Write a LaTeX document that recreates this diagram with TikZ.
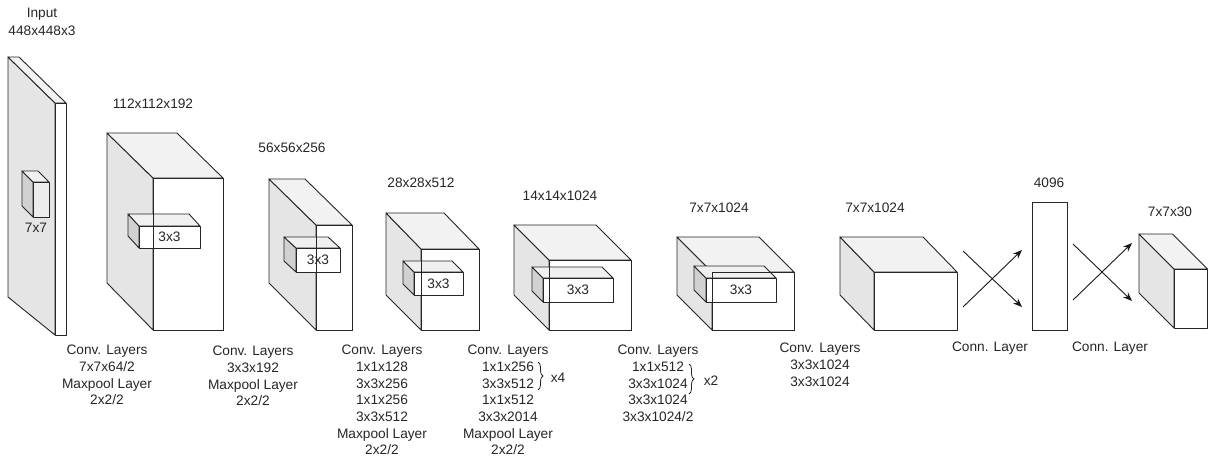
\documentclass[tikz,border=0pt]{standalone}
\usepackage{fontspec}
\setmainfont{Liberation Sans}
\usetikzlibrary{arrows.meta,decorations.pathreplacing}
\tikzset{
  edge/.style={draw=black!85, line width=0.9pt, line join=round},
  bigside/.style={edge, fill=black!10},
  bigtop/.style={edge, fill=black!5},
  bigfront/.style={edge, fill=white},
  smallside/.style={edge, fill=black!18},
  smalltop/.style={edge, fill=black!6},
  smallfront/.style={edge, fill=white},
  greyfront/.style={edge, fill=black!7},
  lbl/.style={font=\fontsize{13.7}{16.7}\selectfont, text=black!85, inner sep=0pt},
  blk/.style={lbl, align=center, anchor=north},
  arr/.style={draw=black!90, line width=0.9pt, -{Stealth[length=9pt,width=7pt]}},
  brc/.style={draw=black!85, line width=0.8pt, decorate, decoration={brace, amplitude=5pt}},
}
% #1 bx, #2 by, #3 back bottom, #4 L, #5 T, #6 R, #7 B, #8 side style, #9 front style
\newcommand{\mycuboid}[9]{%
  \path[#8side] (#1,#2) -- (#4,#5) -- (#4,#7) -- (#1,#3) -- cycle;
  \path[#8top] (#1,#2) -- ({#1+#6-#4},#2) -- (#6,#5) -- (#4,#5) -- cycle;
  \path[#9] (#4,#5) rectangle (#6,#7);
}
\newcommand{\frontedge}[4]{\draw[edge] (#1,#2) rectangle (#3,#4);}
\begin{document}
\begin{tikzpicture}[x=1pt,y=-1pt]
\useasboundingbox (0,0) rectangle (1209,456);
% ---- input slab
\mycuboid{8}{57}{297}{55}{103}{66}{335}{big}{bigfront}
\mycuboid{22}{171}{206}{33}{182}{49}{217}{small}{greyfront}
\node[lbl] (k7) at (36,228) {7x7};
\node[lbl] (in1) at (42,14) {Input};
\node[lbl] (in2) at (42,31) {448x448x3};
% ---- 112x112x192
\mycuboid{107}{133}{283}{153}{178}{223}{330}{big}{bigfront}
\mycuboid{128}{214}{236}{139}{226}{200}{248}{small}{smallfront}
\frontedge{153}{178}{223}{330}
\node[lbl] (k2) at (169.5,237) {3x3};
\node[lbl] (d2) at (153,104) {112x112x192};
% ---- 56x56x256
\mycuboid{269}{179}{283}{316}{225}{352}{330}{big}{bigfront}
\mycuboid{284}{237}{261}{296}{248}{340}{272}{small}{smallfront}
\frontedge{316}{225}{352}{330}
\node[lbl] (k3) at (318,260) {3x3};
\node[lbl] (d3) at (292,148) {56x56x256};
% ---- 28x28x512
\mycuboid{386}{213}{295}{421}{249}{479}{330}{big}{bigfront}
\mycuboid{403}{261}{284}{414}{272}{463}{295}{small}{smallfront}
\frontedge{421}{249}{479}{330}
\node[lbl] (k4) at (438.5,283.5) {3x3};
\node[lbl] (d4) at (421,183) {28x28x512};
% ---- 14x14x1024
\mycuboid{514}{225}{295}{549}{260}{631}{330}{big}{bigfront}
\mycuboid{532}{267}{291}{543}{278}{613}{302}{small}{smallfront}
\frontedge{549}{260}{631}{330}
\node[lbl] (k5) at (578,290) {3x3};
\node[lbl] (d5) at (560,196) {14x14x1024};
% ---- 7x7x1024 (a)
\mycuboid{677}{237}{295}{712}{272}{794}{330}{big}{bigfront}
\mycuboid{694}{266}{290}{706}{278}{776}{302}{small}{smallfront}
\frontedge{712}{272}{794}{330}
\node[lbl] (k6) at (741,290) {3x3};
\node[lbl] (d6) at (719,208) {7x7x1024};
% ---- 7x7x1024 (b)
\mycuboid{840}{237}{295}{874}{272}{957}{330}{big}{bigfront}
\node[lbl] (d7) at (875,208) {7x7x1024};
% ---- fully connected 4096
\node[draw=black!85, line width=0.9pt, fill=white, minimum width=35pt, minimum height=128pt, inner sep=0pt] (fc) at (1049.5,266) {};
\node[lbl] (d8) at (1049,183) {4096};
% ---- output 7x7x30
\mycuboid{1139}{234}{293}{1174}{269}{1207.5}{328}{big}{bigfront}
\node[lbl] (d9) at (1170,212) {7x7x30};
% ---- connection arrows
\coordinate (a1s) at (963,307); \coordinate (a1e) at (1022,250);
\coordinate (a2s) at (963,251); \coordinate (a2e) at (1022,307);
\coordinate (b1s) at (1073,300); \coordinate (b1e) at (1132,243);
\coordinate (b2s) at (1073,244); \coordinate (b2e) at (1132,301);
\draw[arr] (a1s) -- (a1e);
\draw[arr] (a2s) -- (a2e);
\draw[arr] (b1s) -- (b1e);
\draw[arr] (b2s) -- (b2e);
\node[lbl] (c1) at (990,348) {Conn. Layer};
\node[lbl] (c2) at (1110,348) {Conn. Layer};
% ---- bottom text blocks
\node[blk] (t1) at (107,345) {Conv. Layers\\7x7x64/2\\Maxpool Layer\\2x2/2};
\node[blk] (t2) at (253,346) {Conv. Layers\\3x3x192\\Maxpool Layer\\2x2/2};
\node[blk] (t3) at (382,345) {Conv. Layers\\1x1x128\\3x3x256\\1x1x256\\3x3x512\\Maxpool Layer\\2x2/2};
\node[blk] (t4) at (508,345) {Conv. Layers\\1x1x256\\3x3x512\\1x1x512\\3x3x2014\\Maxpool Layer\\2x2/2};
\node[blk] (t5) at (658,345) {Conv. Layers\\1x1x512\\3x3x1024\\3x3x1024\\3x3x1024/2};
\node[blk] (t6) at (820,343) {Conv. Layers\\3x3x1024\\3x3x1024};
% ---- braces
\coordinate (x4t) at (538,362); \coordinate (x4b) at (538,390);
\draw[brc] (x4t) -- (x4b);
\node[lbl] (x4) at (558,378) {x4};
\coordinate (x2t) at (689,364); \coordinate (x2b) at (689,394);
\draw[brc] (x2t) -- (x2b);
\node[lbl] (x2) at (711,381) {x2};
\end{tikzpicture}
\end{document}
